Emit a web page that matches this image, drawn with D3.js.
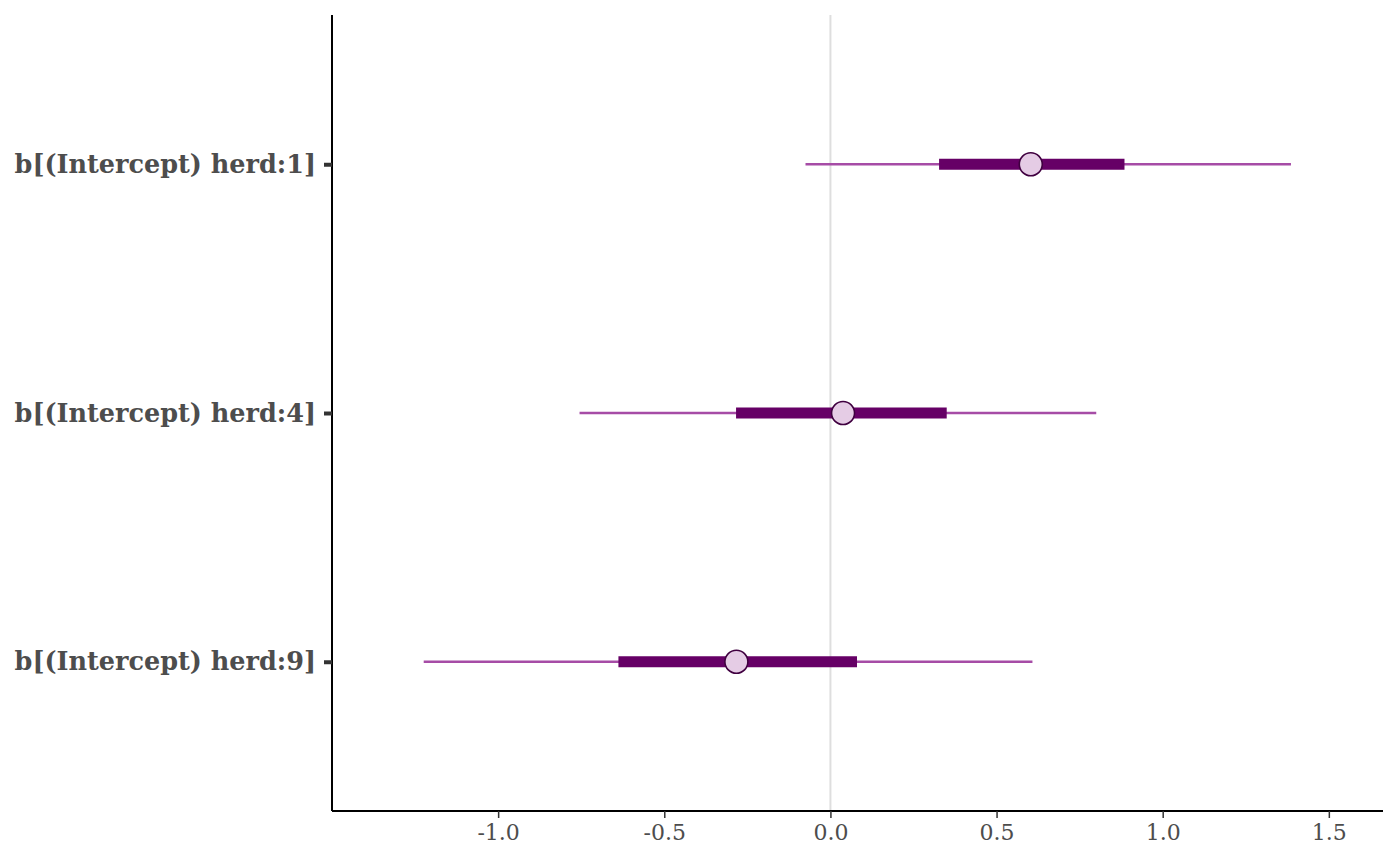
<!DOCTYPE html>
<html>
<head>
<meta charset="utf-8">
<script src="https://cdn.jsdelivr.net/npm/d3@7"></script>
<style>
  body { margin: 0; background: #fff; }
  svg text { font-family: "DejaVu Serif", serif; }
</style>
</head>
<body>
<div id="chart"></div>
<script>
(function() {
"use strict";

// parameters, top to bottom
var params = ["b[(Intercept) herd:1]", "b[(Intercept) herd:4]", "b[(Intercept) herd:9]"];
var outerLo = [-0.075, -0.755, -1.224];
var innerLo = [0.327, -0.284, -0.638];
var median = [0.603, 0.038, -0.283];
var innerHi = [0.885, 0.350, 0.080];
var outerHi = [1.386, 0.800, 0.608];
var xTicks = [-1.0, -0.5, 0.0, 0.5, 1.0, 1.5];

var width = 1400, height = 866;
var left = 332, right = 1383, top = 15, bottom = 811;

var svg = d3.select("#chart").append("svg")
  .attr("width", width)
  .attr("height", height);

var x = d3.scaleLinear().domain([-1.5, 1.663]).range([left, right]);
var y = d3.scalePoint().domain(params).range([top, bottom]).padding(0.6);

var rows = params.map(function(p, i) {
  return {p: p, ol: outerLo[i], il: innerLo[i], m: median[i], ih: innerHi[i], oh: outerHi[i]};
});

// zero reference line
svg.append("line")
  .attr("x1", x(0)).attr("x2", x(0))
  .attr("y1", top).attr("y2", bottom)
  .attr("stroke", "#dedede")
  .attr("stroke-width", 2);

var g = svg.append("g");

g.selectAll("line.outer")
  .data(rows).enter().append("line")
  .attr("class", "outer")
  .attr("x1", function(d) { return x(d.ol); })
  .attr("x2", function(d) { return x(d.oh); })
  .attr("y1", function(d) { return y(d.p); })
  .attr("y2", function(d) { return y(d.p); })
  .attr("stroke", "#a64ca6")
  .attr("stroke-width", 2.6);

g.selectAll("line.inner")
  .data(rows).enter().append("line")
  .attr("class", "inner")
  .attr("x1", function(d) { return x(d.il); })
  .attr("x2", function(d) { return x(d.ih); })
  .attr("y1", function(d) { return y(d.p); })
  .attr("y2", function(d) { return y(d.p); })
  .attr("stroke", "#660066")
  .attr("stroke-width", 11);

g.selectAll("circle")
  .data(rows).enter().append("circle")
  .attr("cx", function(d) { return x(d.m); })
  .attr("cy", function(d) { return y(d.p); })
  .attr("r", 11.5)
  .attr("fill", "#e5cce5")
  .attr("stroke", "#400040")
  .attr("stroke-width", 1.6);

// x axis
var xAxis = svg.append("g")
  .attr("transform", "translate(0," + bottom + ")")
  .call(d3.axisBottom(x).tickValues(xTicks).tickSize(7).tickPadding(6)
    .tickFormat(function(d) { return d3.format(".1f")(d).replace("−", "-"); }));
xAxis.select(".domain").attr("stroke", "#000").attr("stroke-width", 2)
  .attr("d", "M" + left + ",0H" + right);
xAxis.selectAll(".tick line").attr("stroke", "#333").attr("stroke-width", 1.5);
xAxis.selectAll(".tick text")
  .attr("fill", "#4d4d4d")
  .style("font-size", "22px")
  .style("font-family", "DejaVu Serif, serif");

// y axis
var yAxis = svg.append("g")
  .attr("transform", "translate(" + left + ",0)")
  .call(d3.axisLeft(y).tickSize(8).tickPadding(8));
yAxis.select(".domain").attr("stroke", "#000").attr("stroke-width", 2)
  .attr("d", "M0," + top + "V" + bottom);
yAxis.selectAll(".tick line").attr("stroke", "#333").attr("stroke-width", 4);
yAxis.selectAll(".tick text")
  .attr("fill", "#4d4d4d")
  .style("font-size", "25.5px")
  .style("font-weight", "bold")
  .style("font-family", "DejaVu Serif, serif");

})();
</script>
</body>
</html>
